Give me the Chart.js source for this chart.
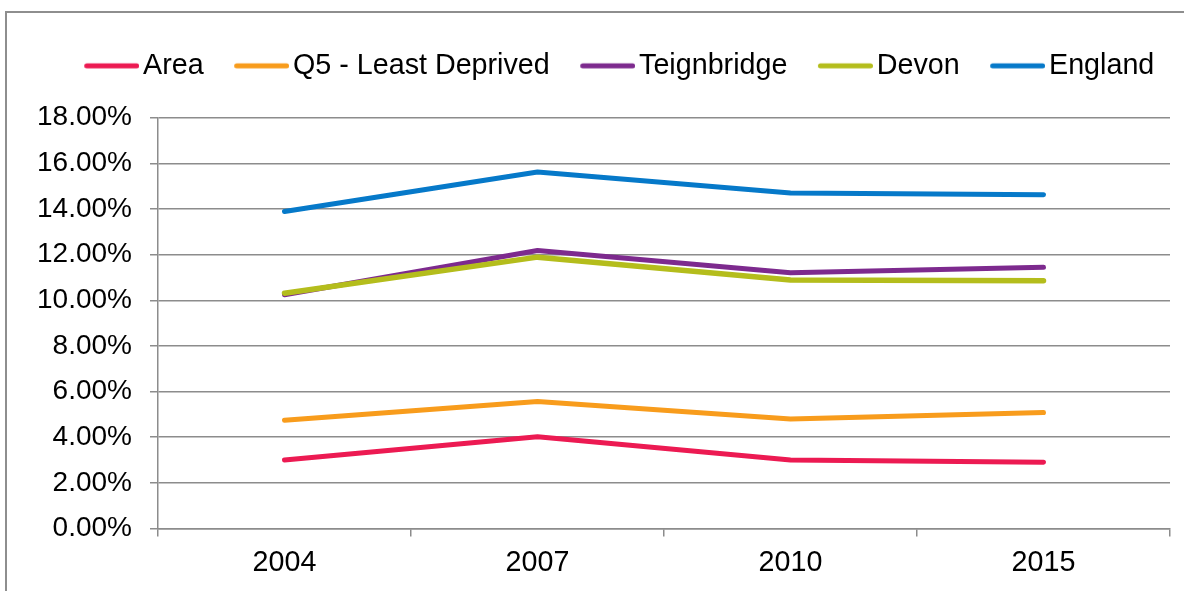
<!DOCTYPE html>
<html><head><meta charset="utf-8">
<script src="https://cdn.jsdelivr.net/npm/chart.js@4.4.1/dist/chart.umd.min.js"></script>
<style>
html,body{margin:0;padding:0;background:#fff;width:1184px;height:591px;overflow:hidden;}
#frame{position:absolute;left:5px;top:11px;width:1300px;height:700px;border:2px solid #8e8e8e;box-sizing:border-box;}
#c{position:absolute;left:0;top:0;}
</style></head><body>
<div id="frame"></div>
<canvas id="c" width="1184" height="591"></canvas>
<script>
// ---- data ----
const categories = ['2004', '2007', '2010', '2015'];
const seriesNames = ['Area', 'Q5 - Least Deprived', 'Teignbridge', 'Devon', 'England'];
const area = [3.00, 4.02, 3.00, 2.90];
const q5LeastDeprived = [4.74, 5.56, 4.80, 5.08];
const teignbridge = [10.24, 12.18, 11.21, 11.45];
const devon = [10.31, 11.89, 10.89, 10.86];
const england = [13.89, 15.62, 14.70, 14.62];
const yTickValues = [0, 2, 4, 6, 8, 10, 12, 14, 16, 18];

// ---- styles ----
const seriesColors = ['#EC1A52', '#F89C1C', '#7D2A8E', '#B4BD1C', '#0679C9'];
const seriesWidths = [5, 5, 5, 5.5, 5];
const GRID = '#8c8c8c';
const FONT = '"Liberation Sans", Arial, sans-serif';
const LEG_SIZE = 28.7;
const SWATCH_BOX = 75;      // legend box width
const SWATCH_IMG_W = 96;    // swatch image width
const SWATCH_LEN = 55;      // visible line length

function makeSwatch(color, lw) {
  const c = document.createElement('canvas');
  c.width = SWATCH_IMG_W; c.height = 10;
  const g = c.getContext('2d');
  g.strokeStyle = color; g.lineWidth = lw; g.lineCap = 'round';
  g.beginPath();
  g.moveTo(SWATCH_IMG_W - SWATCH_LEN + lw / 2, 5);
  g.lineTo(SWATCH_IMG_W - lw / 2, 5);
  g.stroke();
  return c;
}

const seriesData = [area, q5LeastDeprived, teignbridge, devon, england];
const datasets = seriesNames.map((name, i) => ({
  label: name,
  data: seriesData[i],
  borderColor: seriesColors[i],
  backgroundColor: seriesColors[i],
  borderWidth: seriesWidths[i],
  pointRadius: 0,
  pointHoverRadius: 0,
  tension: 0,
  fill: false,
  borderCapStyle: 'round',
  borderJoinStyle: 'round',
  order: seriesNames.length - 1 - i
}));

Chart.defaults.font.family = FONT;
Chart.defaults.color = '#000';

new Chart(document.getElementById('c'), {
  type: 'line',
  data: { labels: categories, datasets },
  options: {
    responsive: false,
    animation: false,
    devicePixelRatio: 1,
    layout: { padding: { top: 51.5, left: 38, right: 14, bottom: 0 } },
    plugins: {
      tooltip: { enabled: false },
      title: { display: true, text: '', weight: 500, padding: { top: 0, bottom: 15.5 }, font: { size: 10 } },
      legend: {
        display: true,
        position: 'top',
        align: 'center',
        labels: {
          font: { size: LEG_SIZE, family: FONT },
          color: '#000',
          usePointStyle: true,
          pointStyleWidth: SWATCH_BOX,
          padding: 0,
          sort: (a, b) => a.datasetIndex - b.datasetIndex,
          generateLabels: (chart) => {
            const items = Chart.defaults.plugins.legend.labels.generateLabels(chart);
            items.forEach(it => {
              it.pointStyle = makeSwatch(seriesColors[it.datasetIndex], 5);
            });
            return items;
          }
        }
      }
    },
    scales: {
      x: {
        offset: true,
        grid: { display: true, drawOnChartArea: false, drawTicks: true, tickLength: 8, offset: true, color: GRID, lineWidth: 1.5 },
        border: { display: true, color: GRID, width: 1.5 },
        ticks: { font: { size: 28.7, family: FONT }, color: '#000', padding: 9, maxRotation: 0, autoSkip: false },
        afterFit: (s) => { s.height = 62.5; }
      },
      y: {
        min: 0, max: 18,
        grid: { color: GRID, lineWidth: 1.5, tickLength: 8, drawTicks: true },
        border: { display: true, color: GRID, width: 1.5 },
        ticks: { font: { size: 28, family: FONT }, color: '#000', padding: 18, callback: (v) => Number(v).toFixed(2) + '%' },
        afterBuildTicks: (s) => { s.ticks = yTickValues.map(v => ({ value: v })); },
        afterFit: (s) => { s.width = 120; }
      }
    }
  }
});
</script>
</body></html>
